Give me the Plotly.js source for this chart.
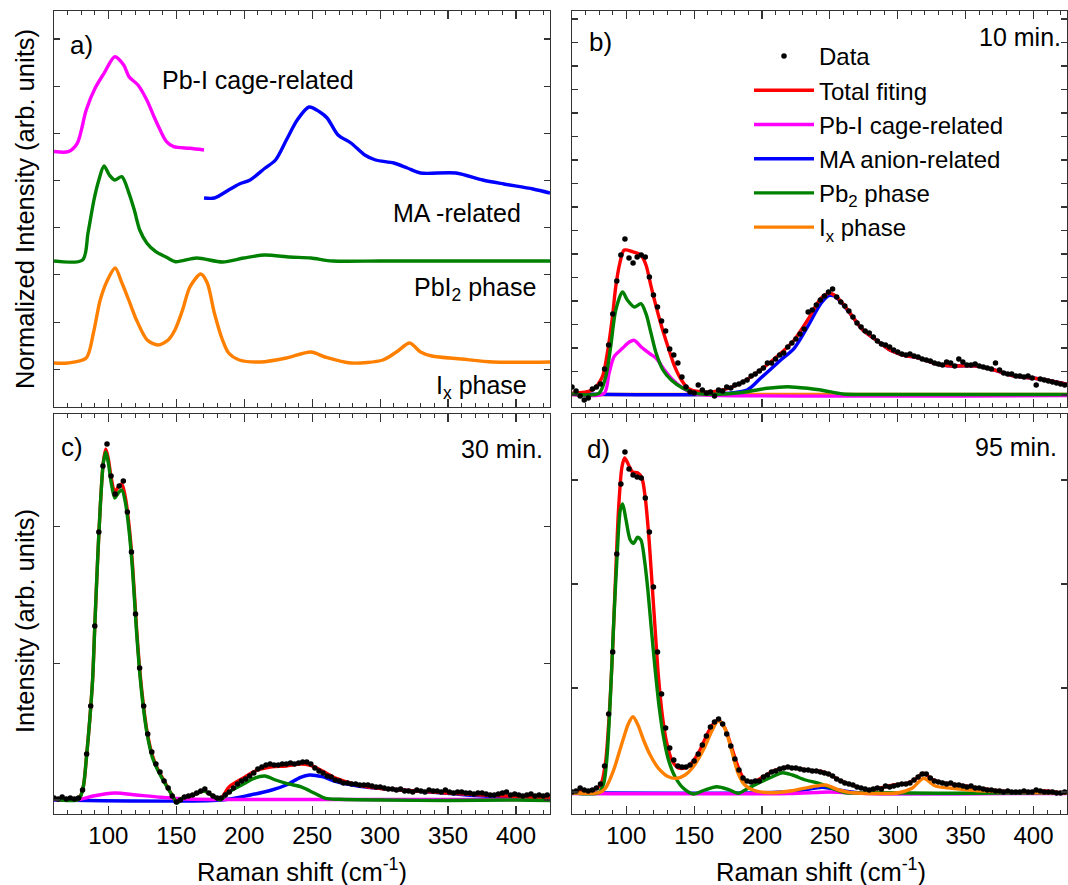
<!DOCTYPE html>
<html><head><meta charset="utf-8">
<script src="https://cdn.plot.ly/plotly-3.0.1.min.js"></script>
<style>html,body{margin:0;padding:0;background:#fff}#chart{width:1068px;height:885px}</style>
</head><body><div id="chart"></div>
<script>
// ---------- DATA ----------
// Panel a: normalized reference spectra (arb. units)
const aCageX = [60,70.5,77.1,83.7,90.2,96.8,104.7,111.3,115.2,121.8,128.3,133.6,137.5,142.8,148.1,159.9,170.4];
const aCageY = [255.5,255.3,263.7,297,318.7,333.7,350.3,342,330.3,322,307,290.3,278.7,265.3,260.3,258.7,257];
const aMAX = [170.4,178,188.5,196.4,204.3,215.4,223,231,239,247.7,255.6,261,269,278.5,288.7,296.6,310,320,329.7,355.7,375.5,391,412.5,425];
const aMAY = [209,209,217,223,227,239,247,267,287,300,295,289,272,264,252,247,244,239,234,234,227,223,218,214];
const aPbI2X = [60,81,85,89.4,92.8,96.8,100.7,104.7,109.9,115.2,119.1,123.1,128.4,134.9,142.8,149.4,165,184,199.6,215,233.5,249,265,300,350,425];
const aPbI2Y = [146,147,173.7,207,226,241,232,227,230.3,213.7,197,177,163.7,155.3,149.7,145.3,149,145,149,152,150,149,146,146,146,146];
const aIxX = [60,70,83.7,89,94,99.4,105,110,115,120.7,128.6,136.5,144,149,154.6,160,168,172.8,178,184,188.5,196.4,212,231,249,259.5,278.5,302,312,321.8,329.7,338,359.7,383,425];
const aIxY = [44,44,49,74,107,127,139,124,107,87,67,62,67,77,97,120,133,124,94,67,54,47,45,49,55,50,44,47,55,64,55,51,48,45,45];

// Measured spectra: Raman shift grid (cm-1)
const ramanShift = [60,63,66,69,72,75,78,81,84,87,
90,93,96,99,102,105,108,111,114,117,
120,123,126,129,132,135,138,141,144,147,
150,153,156,159,162,165,168,171,174,177,
180,183,186,189,192,195,198,201,204,207,
210,213,216,219,222,225,228,231,234,237,
240,243,246,249,252,255,258,261,264,267,
270,273,276,279,282,285,288,291,294,297,
300,303,306,309,312,315,318,321,324,327,
330,333,336,339,342,345,348,351,354,357,
360,363,366,369,372,375,378,381,384,387,
390,393,396,399,402,405,408,411,414,417,
420,423];

// Panel b: 10 min.
const bData = [20,16,11,7,9,18,20,23,38,62,
93,126,152,168,149,144,150,152,150,130,
112,100,86,76,58,52,44,30,20,15,
14,22,17,14,15,11,17,16,20,19,
22,23,25,27,31,33,36,39,44,44,
48,52,54,60,64,68,73,78,95,97,
102,107,111,115,118,110,105,101,96,90,
84,80,76,74,70,66,63,62,60,57,
55,53,52,53,51,50,48,47,46,44,
43,42,45,44,41,48,45,42,42,43,
41,40,39,38,44,37,34,33,33,31,
31,30,31,29,22,28,27,26,25,24,
23,22];
const bTotalX = [60,75,82.3,86,89.8,92.2,95.2,98.5,104.6,110.8,114.5,118.3,122,125.7,130.7,135.7,140.6,145.6,154.3,169.2,184,198.9,213.8,223.7,233.6,243.5,249.5,253.2,259.4,266.8,274.3,284.2,294.2,304,316.5,328.8,341.3,358.6,371,385.9,400.8,415.7,425];
const bTotalY = [13.7,17,30,53.7,90.3,120,143.7,157,155.3,152,142,120.3,100.3,82,60.3,40.3,27,18.7,15.3,16.3,23.7,37,53.7,67,87,108.7,113.7,112,103.7,90.3,77,67,57,52,48.7,43,41,41,37,31,28.7,25.3,22.5];
const bCageX = [60,83.6,87.3,91,97.2,102.2,105.9,110.8,117,122,128.2,134.4,141.8,149.3,160,425];
const bCageY = [12.5,13.5,33.7,50.3,58.7,65,66.7,60.3,53.7,48.7,37,27,18.7,13.7,12,11.5];
const bMAX = [60,165,189,198.9,213.8,223.7,233.6,243.5,249.5,253.2,259.4,266.8,274.3,284.2,294.2,304,316.5,328.8,341.3,358.6,371,385.9,400.8,415.7,425];
const bMAY = [13,13,17,28.7,47,58.7,80.3,103.7,111.5,111,103,90,77,67,57,52,48.7,43,41,41,37,31,28.7,25.3,22.5];
const bPbI2X = [60,79.8,84.8,88.5,92.2,97.2,100.9,105.9,110.8,114.5,118.3,122,127,133.1,141.8,151.8,171.6,189,203.8,218.7,233.6,246,259.4,284,425];
const bPbI2Y = [13,13.7,30,60.3,96.7,115,106.7,100,103.3,93.3,73.3,53.7,37,27,18.7,13.7,13,15.3,18.7,20.3,18.7,16.3,13,12.5,12.5];
const bIxX = [60,425];
const bIxY = [12.5,12.5];

// Panel c: 30 min.
const cData = [16,15,17,15,16,15,16,24,60,108,
188,282,348,370,338,320,328,333,302,262,
200,146,108,80,62,50,42,33,26,18,
12,14,17,18,19,21,23,25,21,18,
16,16,19,22,26,30,33,35,38,41,
45,47,49,50,49,49,50,50,51,50,
51,52,52,50,46,43,41,38,37,34,
33,31,31,30,30,29,29,29,28,27,
27,26,25,25,24,25,23,23,22,24,
23,22,24,23,23,22,24,22,21,22,
22,21,21,20,21,21,20,19,19,20,
21,22,19,20,19,18,19,20,18,19,
18,19];
const cTotalX = [60,78,81.5,83.7,86.3,88.4,90.2,92.1,94.2,96.3,98.1,100,102,104.7,107.3,109.9,112.6,115.2,117.8,120.5,123.1,125.7,128.4,132.3,136.3,141.5,146.8,150.7,154.6,162.5,170.4,175.7,182.2,188.8,199.3,209.8,220.3,230.9,241.4,248,257.2,267.7,283.5,299.3,323,349.3,375.6,401.9,425];
const cTotalY = [15,15,27,54,94,134,194,254,311,352,365,355,337,322,327,330,316,289,249,191,144,110,83,59,45,32,19,12,16,19,23,19,15,27,36,44,47.3,48,50,49,43.3,35.7,29,25.7,23.3,21,19,17.5,16];
const cCageX = [60,78,88.9,104.7,120.5,138.9,157.3,200,425];
const cCageY = [14.5,14.5,18,21,19,16.7,15,14.5,14.5];
const cMAX = [60,183,204.5,220.3,230.9,241.4,248,257.2,267.7,283.5,299.3,323,349.3,375.6,401.9,425];
const cMAY = [14,14,19,24,29,36.7,39,37.3,32.3,28,25.7,23.3,20.7,18,16.3,14.7];
const cPbI2X = [60,78,81.5,83.7,86.3,88.4,90.2,92.1,94.2,96.3,98.1,100,102,104.7,107.3,109.9,112.6,115.2,117.8,120.5,123.1,125.7,128.4,132.3,136.3,141.5,146.8,150.7,154.6,162.5,170.4,175.7,182.2,188.8,199.3,207.2,215.1,223,230.9,241.4,251.9,259.8,270.3,300,350,400,425];
const cPbI2Y = [14.7,14.7,27,54,94,134,194,254,311,351,362,351,332,316,321,324,311,284,244,187,141,107,81,57,44,31,19,11,16,19,23,19,14,22,30,35.7,38,34,30.7,27.3,20.7,15.7,14.7,14,13.5,14,13.5];

// Panel d: 95 min.
const dData = [22,23,26,24,23,24,26,30,48,100,
162,260,330,362,345,339,337,336,316,282,
227,162,120,86,66,54,48,47,47,49,
53,60,69,78,87,92,95,90,80,68,
55,44,36,33,32,33,33,37,39,42,
43,45,46,47,46,46,45,44,44,43,
43,42,41,40,38,35,33,31,30,29,
27,26,25,24,25,26,25,28,27,28,
29,30,30,31,34,37,40,40,36,33,
32,31,30,31,29,29,28,27,28,26,
26,25,24,24,23,23,22,23,22,22,
22,23,22,22,24,23,22,22,22,21,
21,22];
const dTotalX = [60,75,81,84.6,87.5,90,92,94.4,96.8,98.8,101.7,104.6,108.6,111.5,113.9,116.4,118.8,121.3,123.7,126.7,129.8,133.5,138.4,143.3,148.2,154.3,160.4,165.3,167.7,172.6,177.5,182.4,187.3,193.4,200.7,206.8,212.5,217.4,222.3,229.7,237,244.4,250.5,256.6,264,271.3,278.7,286,293.4,300.7,306.9,313,319.1,325.2,332.6,340,349.8,359.6,369.4,381.6,393.9,408.6,420.8,425];
const dTotalY = [22.3,24,29,50.7,100.7,167,234,307,347,356,349,342,341,336,317,281,234,184,137,97,71,54,46,46,51,64,82,92,94,86,67,47,34,32,37,42,44.7,46.7,46.3,44.7,43.3,42.3,39,34,30,26.7,24,25.7,28,29.7,30.7,34.7,40.7,34.7,31.3,30,28,25.7,24,22.3,22.3,23,21.3,21.5];
const dCageX = [60,220,250,280,425];
const dCageY = [20.5,20.5,22,20.5,20.5];
const dMAX = [60,200,227.2,244.4,256.6,271.3,425];
const dMAY = [21.3,21.3,23.3,26.7,24,21.3,21.3];
const dPbI2X = [60,79.7,83.4,85.8,88.3,90.7,93.2,95.6,97.3,99.8,102.9,105.4,108.3,110.8,113.4,115.9,118.3,121.3,124.2,127.4,131.1,135.9,142.1,149.4,157.9,166.5,175.1,182.4,189.7,199.5,207.6,215,222.3,232.1,242,251.7,261.5,280,330,380,425];
const dPbI2Y = [21.3,21.3,30.7,57.3,117.3,190.7,257.3,304,310,294,274,270.7,276.7,274,254,224,187.3,144,107.3,77.3,54,37.3,25.7,20,24,27.3,24.7,20.7,25.7,32.3,37.3,41.3,39,34,30.7,25.7,21.3,21.3,20.7,21,21.3];
const dIxX = [60,79.7,84.6,90.7,96.8,101.7,104.9,108.6,112.7,117.6,123.7,131.1,137.2,143.3,149.4,156.7,162.8,167.7,172.6,177.5,182.4,187.3,194.6,206.8,222.3,237,246.8,256.6,266.4,300.7,310.5,319.1,327.6,340,359.6,418,425];
const dIxY = [21.3,21.3,25.7,44,70.7,90.7,97.3,89,74,59,45.7,37.3,35.7,39,47.3,64,82.3,93.3,85.7,64,40.7,29,23.3,21.3,23.3,27.3,29,24,21.3,21.3,25.7,35.7,28,25.7,23.3,21.3,21.3];

// ---------- STYLE ----------
const FONT = 'Liberation Sans, Arial, Helvetica, sans-serif';
const COL = {total:'#ff0000', cage:'#ff00ff', ma:'#0000ff', pbi2:'#008000', ix:'#ff8000'};
const W = 1068, H = 885;
const fx = p => p / W;
const fy = p => 1 - p / H;

function line(x, y, color, n, extra) {
  return Object.assign({
    type:'scatter', mode:'lines', x:x, y:y,
    xaxis: n === 1 ? 'x' : 'x' + n, yaxis: n === 1 ? 'y' : 'y' + n,
    line:{color:color, width:3.4, shape:'spline', smoothing:0.8},
    showlegend:false, hoverinfo:'skip'
  }, extra || {});
}
function dots(x, y, n, extra) {
  return Object.assign({
    type:'scatter', mode:'markers', x:x, y:y,
    xaxis:'x' + n, yaxis:'y' + n,
    marker:{color:'#000', size:5.5},
    showlegend:false, hoverinfo:'skip'
  }, extra || {});
}

const traces = [
  line(bIxX, bIxY, COL.ix, 2, {name:'I<sub>x</sub> phase', showlegend:true, legendrank:6}),
  line(aIxX, aIxY, COL.ix, 1),
  line(aPbI2X, aPbI2Y, COL.pbi2, 1),
  line(aCageX, aCageY, COL.cage, 1),
  line(aMAX, aMAY, COL.ma, 1),
  line(bMAX, bMAY, COL.ma, 2, {name:'MA anion-related', showlegend:true, legendrank:4}),
  line(bCageX, bCageY, COL.cage, 2, {name:'Pb-I cage-related', showlegend:true, legendrank:3}),
  line(bTotalX, bTotalY, COL.total, 2, {name:'Total fiting', showlegend:true, legendrank:2}),
  line(bPbI2X, bPbI2Y, COL.pbi2, 2, {name:'Pb<sub>2</sub> phase', showlegend:true, legendrank:5}),
  dots(ramanShift, bData, 2, {name:'Data', showlegend:true, legendrank:1}),
  line(cMAX, cMAY, COL.ma, 3),
  line(cCageX, cCageY, COL.cage, 3),
  line(cTotalX, cTotalY, COL.total, 3),
  line(cPbI2X, cPbI2Y, COL.pbi2, 3),
  dots(ramanShift, cData, 3),
  line(dMAX, dMAY, COL.ma, 4),
  line(dCageX, dCageY, COL.cage, 4),
  line(dTotalX, dTotalY, COL.total, 4),
  line(dPbI2X, dPbI2Y, COL.pbi2, 4),
  line(dIxX, dIxY, COL.ix, 4),
  dots(ramanShift, dData, 4)
];

const axBase = {showline:true, mirror:'allticks', linecolor:'#333', linewidth:1.3,
  ticks:'inside', tickcolor:'#333', tickwidth:1.2, zeroline:false, showgrid:false,
  fixedrange:true, tickfont:{family:FONT, size:24, color:'#000'}};
function xAx(dom, rng, labels, anchor) {
  return Object.assign({}, axBase, {domain:dom, range:rng, tick0:0, dtick:50, ticklen:8,
    minor:{dtick:10, tick0:0, ticks:'inside', ticklen:4, tickcolor:'#333', tickwidth:1},
    showticklabels:labels, anchor:anchor});
}
function yAx(dom, rng, t0, dt, anchor) {
  return Object.assign({}, axBase, {domain:dom, range:rng, tick0:t0, dtick:dt, ticklen:6,
    showticklabels:false, anchor:anchor});
}
const L = [fx(54), fx(550)], R = [fx(572), fx(1067.4)];
const T = [fy(407), fy(11)], B = [fy(814), fy(414)];

function ann(text, xp, yp, anchor, size, extra) {
  return Object.assign({text:text, x:fx(xp), y:fy(yp), xref:'paper', yref:'paper',
    xanchor:anchor, yanchor:'middle', showarrow:false,
    font:{family:FONT, size:size, color:'#000'}}, extra || {});
}

const layout = {
  width:W, height:H, margin:{l:0, r:0, t:0, b:0},
  paper_bgcolor:'#fff', plot_bgcolor:'#fff',
  font:{family:FONT, color:'#000'},
  xaxis: xAx(L, [60,425], false, 'y'),
  yaxis: yAx(T, [0,396], 37.7, 47.2, 'x'),
  xaxis2: xAx(R, [60,425], false, 'y2'),
  yaxis2: yAx(T, [0,396], 12, 23.5, 'x2'),
  xaxis3: xAx(L, [60,425], true, 'y3'),
  yaxis3: yAx(B, [0,400], 14, 136.7, 'x3'),
  xaxis4: xAx(R, [60,425], true, 'y4'),
  yaxis4: yAx(B, [0,400], 22, 104, 'x4'),
  showlegend:true,
  legend:{x:fx(749), y:fy(34), xanchor:'left', yanchor:'top', bgcolor:'rgba(0,0,0,0)',
    borderwidth:0, font:{family:FONT, size:24, color:'#000'}, itemwidth:60, tracegroupgap:0,
    traceorder:'normal'},
  annotations:[
    ann('a)', 68, 45, 'left', 26),
    ann('b)', 587, 42, 'left', 26),
    ann('c)', 59, 447, 'left', 26),
    ann('d)', 585, 449, 'left', 26),
    ann('10 min.', 1063, 37, 'right', 25),
    ann('30 min.', 545, 449, 'right', 25),
    ann('95 min.', 1059, 447, 'right', 25),
    ann('Pb-I cage-related', 160, 80, 'left', 25),
    ann('MA -related', 391, 213, 'left', 25),
    ann('PbI<sub>2</sub> phase', 412, 289, 'left', 25),
    ann('I<sub>x</sub> phase', 434, 387, 'left', 25),
    ann('Normalized Intensity (arb. units)', 25, 209, 'center', 25.5, {textangle:-90}),
    ann('Intensity (arb. units)', 25, 621, 'center', 25.5, {textangle:-90}),
    ann('Raman shift (cm<sup>-1</sup>)', 302, 870, 'center', 25.5),
    ann('Raman shift (cm<sup>-1</sup>)', 821, 870, 'center', 25.5)
  ]
};

Plotly.newPlot('chart', traces, layout, {staticPlot:true, displayModeBar:false});
</script>
</body></html>
